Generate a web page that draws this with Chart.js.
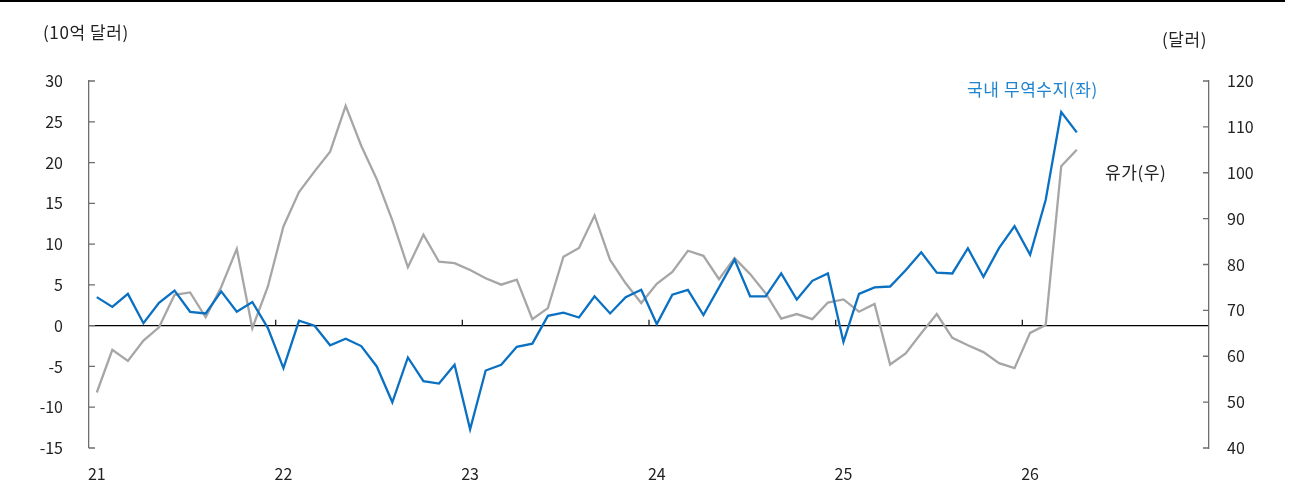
<!DOCTYPE html>
<html>
<head>
<meta charset="utf-8">
<script src="https://cdn.jsdelivr.net/npm/chart.js@4/dist/chart.umd.min.js"></script>
<style>
  body { margin: 0; background: #fff; }
  #wrap { position: relative; width: 1290px; height: 486px; font-family: "Noto Sans CJK KR", "Noto Sans", sans-serif; }
  #topLine { position: absolute; left: 0; top: 0; width: 1285px; height: 2px; background: #000; }
  .lbl { position: absolute; font-size: 17px; line-height: 20px; color: #222; white-space: nowrap; letter-spacing: 0.6px; }
</style>
</head>
<body>
<div id="wrap">
  <canvas id="chart" width="1290" height="486"></canvas>
  <div id="topLine"></div>
  <div class="lbl" style="left:43px; top:22px;">(10억 달러)</div>
  <div class="lbl" style="left:1162px; top:29px;">(달러)</div>
  <div class="lbl" style="left:967px; top:79px; color:#1f84cf;">국내 무역수지(좌)</div>
  <div class="lbl" style="left:1105px; top:162px;">유가(우)</div>
</div>
<script>
  // monthly, Jan 2021 .. Dec 2026 (data through Apr 2026)
  const years = ["21", "22", "23", "24", "25", "26"];
  const months = [];
  years.forEach(y => {
    for (let m = 1; m <= 12; m++) months.push(y + "-" + String(m).padStart(2, "0"));
  });

  // 국내 무역수지, 10억 달러 (left axis)
  const tradeBalance = [
    3.5, 2.3, 3.9, 0.3, 2.8, 4.3, 1.7, 1.5, 4.2, 1.7, 2.9, -0.3,
    -5.2, 0.6, 0.0, -2.4, -1.6, -2.5, -5.0, -9.4, -3.9, -6.8, -7.1, -4.8,
    -12.7, -5.5, -4.8, -2.6, -2.2, 1.2, 1.6, 1.0, 3.6, 1.5, 3.5, 4.4,
    0.2, 3.8, 4.4, 1.3, 4.7, 8.1, 3.6, 3.6, 6.4, 3.2, 5.5, 6.4,
    -2.0, 3.9, 4.7, 4.8, 6.8, 9.0, 6.5, 6.4, 9.5, 6.0, 9.5, 12.2,
    8.7, 15.4, 26.2, 23.7
  ];

  // 유가, 달러 (right axis)
  const oilPrice = [
    52.1, 61.4, 59.0, 63.4, 66.3, 73.4, 73.9, 68.5, 75.1, 83.4, 66.1, 75.2,
    88.3, 95.8, 100.3, 104.6, 114.6, 105.9, 98.6, 89.6, 79.4, 86.5, 80.6, 80.3,
    78.8, 77.0, 75.6, 76.7, 68.1, 70.5, 81.7, 83.6, 90.7, 81.0, 75.9, 71.6,
    75.8, 78.4, 83.0, 81.9, 76.8, 81.4, 77.9, 73.7, 68.2, 69.2, 68.1, 71.7,
    72.4, 69.7, 71.4, 58.2, 60.6, 65.0, 69.2, 64.0, 62.4, 60.9, 58.5, 57.4,
    65.1, 66.8, 101.4, 105.0
  ];

  const axisGray = "#6e6e6e";

  // inward ticks on both y axes, year ticks on the zero line
  const innerTicks = {
    id: "innerTicks",
    afterDatasetsDraw(chart) {
      const ctx = chart.ctx;
      const x = chart.scales.x, y = chart.scales.y, y1 = chart.scales.y1;
      ctx.save();
      ctx.lineWidth = 1.3;
      ctx.strokeStyle = axisGray;
      ctx.beginPath();
      y.ticks.forEach(t => {
        const py = y.getPixelForValue(t.value);
        ctx.moveTo(y.right, py);
        ctx.lineTo(y.right + 6, py);
      });
      y1.ticks.forEach(t => {
        const py = y1.getPixelForValue(t.value);
        ctx.moveTo(y1.left, py);
        ctx.lineTo(y1.left - 6, py);
      });
      ctx.stroke();

      const y0 = y.getPixelForValue(0);
      ctx.strokeStyle = "#222";
      ctx.beginPath();
      months.forEach((m, i) => {
        if (i > 0 && i % 12 === 0) {
          const px = (x.getPixelForValue(i - 1) + x.getPixelForValue(i)) / 2;
          ctx.moveTo(px, y0);
          ctx.lineTo(px, y0 - 6);
        }
      });
      ctx.stroke();
      ctx.restore();
    }
  };

  const font = { family: "'Noto Sans CJK KR', 'Noto Sans', sans-serif", size: 16 };

  new Chart(document.getElementById("chart"), {
    type: "line",
    data: {
      labels: months,
      datasets: [
        {
          label: "국내 무역수지(좌)",
          data: tradeBalance,
          yAxisID: "y",
          borderColor: "#0a70c2",
          borderWidth: 2.3,
          pointRadius: 0,
          tension: 0,
          fill: false
        },
        {
          label: "유가(우)",
          data: oilPrice,
          yAxisID: "y1",
          borderColor: "#a6a6a6",
          borderWidth: 2.3,
          pointRadius: 0,
          tension: 0,
          fill: false
        }
      ]
    },
    options: {
      responsive: false,
      animation: false,
      devicePixelRatio: 1,
      layout: { padding: { top: 81, left: 0, right: 0, bottom: 0 } },
      plugins: { legend: { display: false }, tooltip: { enabled: false } },
      scales: {
        x: {
          type: "category",
          offset: true,
          grid: { display: false },
          border: { display: false },
          ticks: {
            autoSkip: false,
            maxRotation: 0,
            padding: 8,
            color: "#222",
            font: font,
            callback: (v, i) => (i % 12 === 0 ? years[i / 12] : "")
          },
          afterFit: s => { s.height = 38; }
        },
        y: {
          position: "left",
          min: -15,
          max: 30,
          ticks: { stepSize: 5, padding: 26, color: "#222", font: font },
          grid: {
            drawTicks: false,
            lineWidth: 1.3,
            color: c => (c.tick && c.tick.value === 0 ? "#000" : "rgba(0,0,0,0)")
          },
          border: { display: true, color: axisGray, width: 1.3 },
          afterFit: s => { s.width = 89; }
        },
        y1: {
          position: "right",
          min: 40,
          max: 120,
          ticks: { stepSize: 10, padding: 18, color: "#222", font: font },
          grid: { display: false, drawTicks: false },
          border: { display: true, color: axisGray, width: 1.3 },
          afterFit: s => { s.width = 81; }
        }
      }
    },
    plugins: [innerTicks]
  });
</script>
</body>
</html>
